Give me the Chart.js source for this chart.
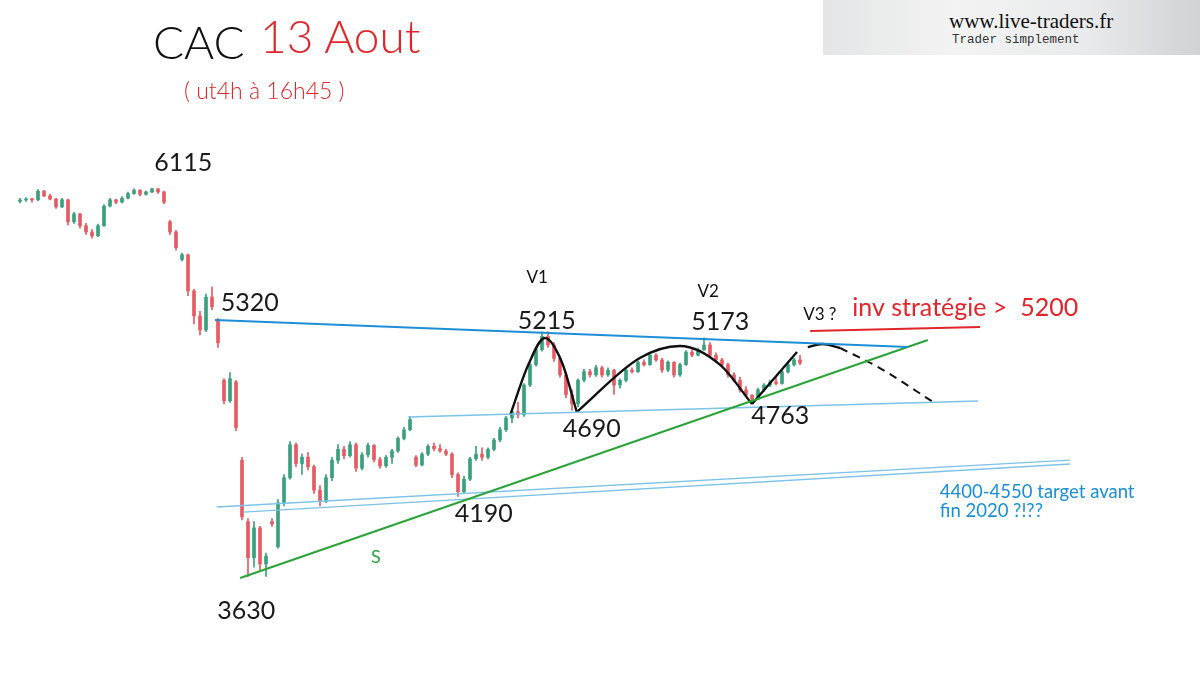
<!DOCTYPE html>
<html>
<head>
<meta charset="utf-8">
<script src="https://cdn.jsdelivr.net/npm/chart.js@4.4.0/dist/chart.umd.min.js"></script>
<style>
body { margin:0; background:#fff; }
#wrap { position:relative; width:1200px; height:677px; overflow:hidden; font-family:Lato, "Noto Sans", sans-serif; }
#c { position:absolute; left:0; top:0; }
.t { position:absolute; white-space:nowrap; }
#brand { position:absolute; left:823px; top:0; width:377px; height:55px;
	background:linear-gradient(90deg, #e4e5e6 0%, #f3f3f3 35%, #e9eaeb 70%, #cfd3d6 100%); }
</style>
</head>
<body>
<div id="wrap">
	<canvas id="c" width="1200" height="677"></canvas>
	<div class="t" style="left:153px;top:14px;font-size:46px;font-weight:300;color:#111;">CAC</div>
	<div class="t" style="left:260px;top:8px;font-size:46px;font-weight:300;color:#e0262b;">13 Aout</div>
	<div class="t" style="left:184px;top:76px;font-size:23px;font-weight:300;color:#e0262b;">( ut4h à 16h45 )</div>
	<div id="brand">
		<div class="t" style="left:126px;top:9px;font-family:'Liberation Serif',serif;font-size:21px;color:#111;">www.live-traders.fr</div>
		<div class="t" style="left:129px;top:33px;font-family:'Liberation Mono',monospace;font-size:12.5px;color:#333;">Trader simplement</div>
	</div>
</div>
<script>
// ut4h candles, one per 4h bar
var opens = [6030,6039,6045,6040,6095,6065,6045,5995,6040,5900,5950,5875,5835,5810,5875,6000,6040,6025,6050,6080,
	6100,6075,6090,6110,6090,5900,5835,5660,5690,5460,5300,5210,5420,5270,4890,4760,4880,4380,3990,3760,
	3950,3720,3990,3830,4110,4270,4480,4360,4400,4340,4190,4120,4270,4380,4450,4410,4480,4330,4415,4475,
	4385,4345,4400,4440,4520,4575,4400,4350,4420,4470,4455,4440,4420,4290,4180,4260,4390,4420,4400,4450,
	4510,4575,4650,4690,4670,4860,4990,5085,5170,5115,5030,4925,4800,4740,4890,4945,4925,4970,4925,4955,
	4860,4890,4955,4945,5005,4990,5050,5020,4955,5005,4925,4990,5070,5050,5085,5115,5050,5020,4990,4925,
	4890,4830,4795,4770,4830,4860,4880,4870,4945,4990,5020];
var highs = [6050,6055,6050,6105,6100,6075,6050,6050,6045,5960,5955,5890,5850,5885,6010,6050,6045,6060,6090,6110,
	6105,6095,6115,6112,6095,5910,5845,5700,5695,5470,5330,5440,5485,5285,4900,4940,4890,4400,4010,3990,
	3960,3790,4010,4130,4290,4500,4490,4420,4430,4350,4220,4290,4400,4480,4470,4500,4490,4430,4490,4480,
	4400,4410,4450,4530,4590,4660,4410,4430,4480,4490,4480,4450,4430,4300,4280,4400,4470,4460,4460,4520,
	4590,4660,4700,4750,4870,5000,5100,5200,5200,5130,5040,4940,4830,4900,4960,4960,4985,4980,4970,4960,
	4900,4965,4970,5015,5020,5060,5060,5030,5015,5010,5000,5080,5085,5095,5160,5130,5065,5030,5000,4940,
	4910,4850,4800,4840,4870,4890,4915,4955,5000,5030,5050];
var lows = [6020,6030,6025,6035,6060,6040,5985,5990,5880,5890,5860,5820,5795,5805,5870,5995,6015,6020,6045,6075,
	6065,6070,6085,6080,6015,5820,5720,5650,5430,5250,5180,5200,5340,5100,4740,4750,4570,4000,3640,3700,
	3680,3640,3960,3820,4090,4260,4340,4290,4320,4170,4090,4110,4250,4360,4390,4400,4310,4320,4400,4370,
	4330,4335,4360,4430,4510,4570,4340,4345,4410,4440,4430,4410,4270,4150,4170,4250,4380,4380,4390,4440,
	4500,4565,4620,4650,4660,4850,4980,5075,5100,5010,4910,4780,4700,4720,4880,4910,4915,4910,4915,4800,
	4840,4880,4935,4940,4980,4985,5010,4940,4945,4910,4915,4985,5040,5045,5080,5040,5010,4980,4910,4880,
	4815,4785,4755,4765,4820,4850,4860,4865,4935,4980,4990];
var closes = [6039,6045,6040,6095,6065,6045,5995,6040,5900,5950,5875,5835,5810,5875,6000,6040,6025,6050,6080,6100,
	6075,6090,6110,6090,6025,5835,5735,5690,5460,5300,5210,5420,5360,5130,4760,4900,4590,4020,3760,3950,
	3720,3770,3975,4110,4270,4480,4360,4400,4340,4190,4120,4270,4380,4450,4410,4480,4330,4415,4475,4385,
	4345,4400,4440,4520,4575,4640,4350,4420,4470,4455,4440,4420,4290,4180,4260,4390,4420,4400,4450,4510,
	4575,4650,4690,4670,4860,4990,5085,5170,5115,5030,4925,4800,4740,4890,4945,4925,4970,4925,4955,4860,
	4890,4955,4945,5005,4990,5050,5020,4955,5005,4925,4990,5070,5050,5085,5115,5050,5020,4990,4925,4890,
	4830,4795,4770,4830,4860,4880,4870,4945,4990,5020,5000];

// drawn lines, [bar index, price]
var resistanceLine = [[32.5,5274],[148,5102]];
var supportLine = [[36.7,3631],[151.3,5147]];
var channelHigh = [[64.7,4656],[159.7,4758]];
var channelLowA = [[32.8,4083],[175,4382]];
var channelLowB = [[37.2,4051],[175,4357]];
var wave1 = [[81.7,4669],[84.7,4988],[87.5,5160],[90.3,5007],[92.8,4688]];
var wave2 = [[92.8,4688],[103.3,5032],[110,5109],[116.7,4988],[122,4739]];
var wave3 = [[122,4739],[129.5,5070]];
var wave4 = [[131.3,5102],[133.7,5121],[136.7,5096]];
var wave4Dash = [[136.7,5096],[143.3,4968],[152.7,4739]];
var redUnderline = [[131.7,5204],[160,5230]];

// text marks, [bar index, price, text]
var priceLabels = [[27.2,6274,'6115'],[38.3,5382,'5320'],[37.7,3420,'3630'],[77.3,4038,'4190'],
	[87.8,5268,'5215'],[95.3,4580,'4690'],[116.7,5261,'5173'],[126.7,4663,'4763']];
var waveLabels = [[86.2,5542,'V1'],[114.7,5459,'V2'],[133.3,5312,'V3 ?']];

var GREEN = '#3a9f7d', RED = '#e45b62';

var pts = function(arr) { return arr.map(function(p) { return {x:p[0], y:p[1]}; }); };
var candleColors = closes.map(function(c, i) { return c >= opens[i] ? GREEN : RED; });

var lineSet = function(arr, color, width, extra) {
	var ds = { type:'line', data:pts(arr), borderColor:color, borderWidth:width,
		pointRadius:0, fill:false, tension:0, order:0 };
	for (var k in (extra || {})) ds[k] = extra[k];
	return ds;
};

var textPlugin = {
	id:'textMarks',
	afterDatasetsDraw:function(chart) {
		var ctx = chart.ctx, xs = chart.scales.x, ys = chart.scales.y;
		var put = function(i, p, txt, font, color, align) {
			ctx.save();
			ctx.font = font;
			ctx.fillStyle = color;
			ctx.textAlign = align || 'center';
			ctx.textBaseline = 'middle';
			ctx.fillText(txt, xs.getPixelForValue(i), ys.getPixelForValue(p));
			ctx.restore();
		};
		priceLabels.forEach(function(l) { put(l[0], l[1], l[2], '25px Lato', '#1a1a1a'); });
		waveLabels.forEach(function(l) { put(l[0], l[1], l[2], '17px Lato', '#111'); });
		put(138.7, 5351, 'inv stratégie >  5200', '25px Lato', '#e0262b', 'left');
		put(59.3, 3764, 'S', '18px Lato', '#2aa33a');
		put(153.3, 4179, '4400-4550 target avant', '18.5px Lato', '#1b8fd6', 'left');
		put(153.3, 4058, 'fin 2020 ?!??', '18.5px Lato', '#1b8fd6', 'left');
	}
};

var idx = closes.map(function(c, i) { return i; });

new Chart(document.getElementById('c').getContext('2d'), {
	type:'bar',
	data:{
		datasets:[
			lineSet(resistanceLine, '#1d8fd8', 2),
			lineSet(supportLine, '#2aa33a', 2),
			lineSet(channelHigh, '#7cc3ea', 1.6),
			lineSet(channelLowA, '#7cc3ea', 1.3),
			lineSet(channelLowB, '#7cc3ea', 1.3),
			lineSet(wave1, '#111', 2.4, {cubicInterpolationMode:'monotone'}),
			lineSet(wave2, '#111', 2.4, {cubicInterpolationMode:'monotone'}),
			lineSet(wave3, '#111', 2.4),
			lineSet(wave4, '#111', 2.4, {cubicInterpolationMode:'monotone'}),
			lineSet(wave4Dash, '#111', 2, {borderDash:[8,6], cubicInterpolationMode:'monotone'}),
			lineSet(redUnderline, '#e0262b', 2),
			{ data:idx.map(function(i) { return {x:i, y:[opens[i], closes[i]]}; }),
				backgroundColor:candleColors, barThickness:3, minBarLength:1, grouped:false, order:1 },
			{ data:idx.map(function(i) { return {x:i, y:[lows[i], highs[i]]}; }),
				backgroundColor:candleColors, barThickness:1, grouped:false, order:2 }
		]
	},
	options:{
		responsive:false,
		animation:false,
		events:[],
		layout:{ padding:0 },
		plugins:{ legend:{display:false}, tooltip:{enabled:false} },
		scales:{
			x:{ type:'linear', min:-3.333, max:196.667, display:false, offset:false },
			y:{ min:3000, max:7313, display:false }
		}
	},
	plugins:[textPlugin]
});
</script>
</body>
</html>
